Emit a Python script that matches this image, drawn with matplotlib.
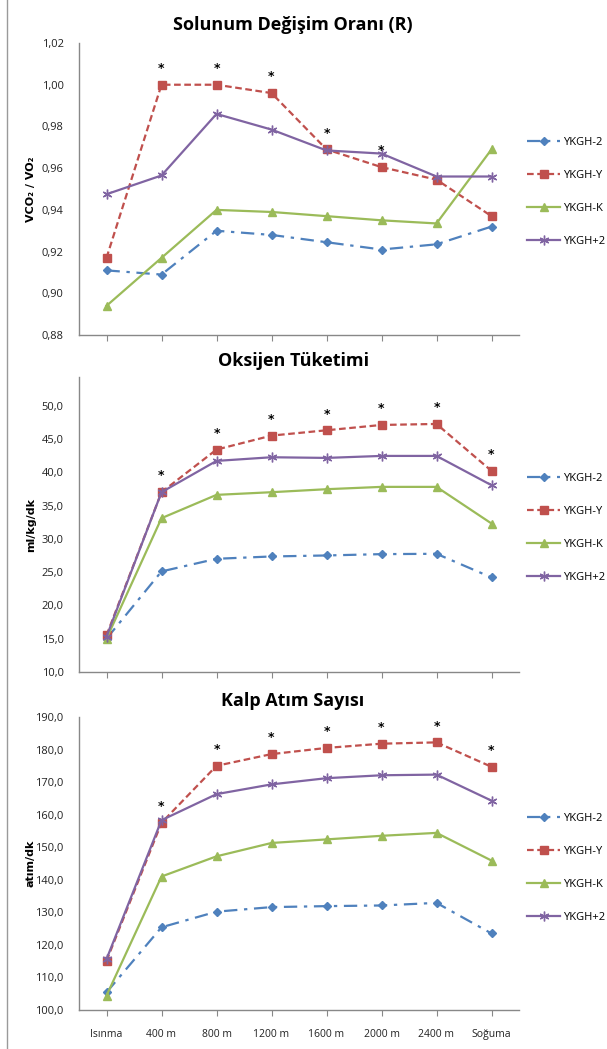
import matplotlib.pyplot as plt
from matplotlib.lines import Line2D

# Kategoriler
kategoriler = ['Isınma', '400 m', '800 m', '1200 m', '1600 m', '2000 m', '2400 m', 'Soğuma']
seriler = ['YKGH-2', 'YKGH-Y', 'YKGH-K', 'YKGH+2']

# Solunum Değişim Oranı (R)
r_ykgh_2 = [0.911, 0.909, 0.930, 0.928, 0.9245, 0.921, 0.9235, 0.932]
r_ykgh_y = [0.917, 1.000, 1.000, 0.996, 0.969, 0.9605, 0.9545, 0.937]
r_ykgh_k = [0.894, 0.917, 0.940, 0.939, 0.937, 0.935, 0.9335, 0.969]
r_ykgh_p2 = [0.9475, 0.9565, 0.986, 0.9785, 0.9685, 0.967, 0.956, 0.956]
r_yildiz = [0, 1, 1, 1, 1, 1, 0, 0]

# Oksijen Tüketimi
o_ykgh_2 = [15.0, 25.1, 27.0, 27.35, 27.5, 27.7, 27.75, 24.2]
o_ykgh_y = [15.5, 37.0, 43.4, 45.5, 46.3, 47.1, 47.25, 40.2]
o_ykgh_k = [15.0, 33.1, 36.6, 37.0, 37.45, 37.8, 37.8, 32.3]
o_ykgh_p2 = [15.3, 37.0, 41.7, 42.25, 42.15, 42.45, 42.45, 38.05]
o_yildiz = [0, 1, 1, 1, 1, 1, 1, 1]

# Kalp Atım Sayısı
k_ykgh_2 = [105.4, 125.4, 130.2, 131.6, 131.9, 132.1, 132.9, 123.5]
k_ykgh_y = [115.1, 157.5, 175.0, 178.6, 180.5, 181.8, 182.2, 174.7]
k_ykgh_k = [104.4, 141.0, 147.2, 151.3, 152.4, 153.5, 154.4, 145.9]
k_ykgh_p2 = [115.6, 158.3, 166.3, 169.3, 171.2, 172.1, 172.3, 164.3]
k_yildiz = [0, 1, 1, 1, 1, 1, 1, 1]

renkler = ['#4F81BD', '#C0504D', '#9BBB59', '#8064A2']
stiller = [(0, (6, 3, 1.5, 3)), (0, (3, 1.6)), '-', '-']
isaretler = ['D', 's', '^', (6, 2, 0)]
boyutlar = [4, 6, 6, 7]

fig = plt.figure(figsize=(6.07, 10.49), dpi=100)
fig.add_artist(Line2D([0.0115, 0.0115], [0, 1], color='#9a9a9a', lw=1))

sol = 79 / 607
genislik = 440 / 607

paneller = [
    ('Solunum Değişim Oranı (R)', 'VCO₂ / VO₂',
     [r_ykgh_2, r_ykgh_y, r_ykgh_k, r_ykgh_p2], r_yildiz,
     (0.88, 1.02), [0.88, 0.90, 0.92, 0.94, 0.96, 0.98, 1.00, 1.02], '{:.2f}',
     [sol, 0.6806, genislik, 0.2784], 1 - 25 / 1049, 1 - 192 / 1049),
    ('Oksijen Tüketimi', 'ml/kg/dk',
     [o_ykgh_2, o_ykgh_y, o_ykgh_k, o_ykgh_p2], o_yildiz,
     (10, 54.3), [10, 15, 20, 25, 30, 35, 40, 45, 50], '{:.1f}',
     [sol, 0.3594, genislik, 0.2812], 1 - 361 / 1049, 1 - 528 / 1049),
    ('Kalp Atım Sayısı', 'atım/dk',
     [k_ykgh_2, k_ykgh_y, k_ykgh_k, k_ykgh_p2], k_yildiz,
     (100, 190), [100, 110, 120, 130, 140, 150, 160, 170, 180, 190], '{:.1f}',
     [sol, 0.0372, genislik, 0.2793], 1 - 701 / 1049, 1 - 868 / 1049),
]

x = list(range(len(kategoriler)))

for i, (baslik, ylabel, veriler, yildiz, ylim, yticks, fmt, konum, baslik_y, lejant_y) in enumerate(paneller):
    ax = fig.add_axes(konum)
    for veri, ad, renk, stil, isaret, boyut in zip(veriler, seriler, renkler, stiller, isaretler, boyutlar):
        ax.plot(x, veri, color=renk, linestyle=stil, linewidth=1.6, marker=isaret,
                markersize=boyut, markerfacecolor=renk, markeredgecolor=renk,
                markeredgewidth=1.0, label=ad)

    # Yıldızlar (YKGH-Y üstünde)
    for j, y in enumerate(veriler[1]):
        if yildiz[j]:
            ax.annotate('*', (j, y), xytext=(0, 7), textcoords='offset points',
                        ha='center', va='bottom', fontsize=9, fontweight='bold')

    ax.set_xlim(-0.5, 7.5)
    ax.set_ylim(*ylim)
    ax.set_yticks(yticks)
    ax.set_yticklabels([fmt.format(v).replace('.', ',') for v in yticks],
                       fontsize=8, family='Open Sans', color='#222222')
    ax.set_xticks(x)
    if i == 2:
        ax.set_xticklabels(kategoriler, fontsize=7.5, family='Open Sans', color='#222222')
    else:
        ax.set_xticklabels([])
    ax.tick_params(axis='y', length=0, pad=11)
    ax.tick_params(axis='x', length=4, direction='out', color='#888888', pad=10)
    for s in ['top', 'right']:
        ax.spines[s].set_visible(False)
    for s in ['left', 'bottom']:
        ax.spines[s].set_color('#888888')
        ax.spines[s].set_linewidth(1)

    ax.set_ylabel(ylabel, fontsize=8, fontweight='bold')
    ax.yaxis.set_label_coords(-0.098, 0.5)

    fig.text(293 / 607, baslik_y, baslik, ha='center', va='center', fontsize=13,
             fontweight='bold', family='Open Sans')

    ax.legend(loc='center left', bbox_to_anchor=(527 / 607, lejant_y),
              bbox_transform=fig.transFigure, frameon=False, borderaxespad=0,
              borderpad=0, handlelength=3.0, handletextpad=0.2, labelspacing=2.0,
              prop={'family': 'Open Sans', 'size': 8})

fig.savefig('out.png', dpi=100)
